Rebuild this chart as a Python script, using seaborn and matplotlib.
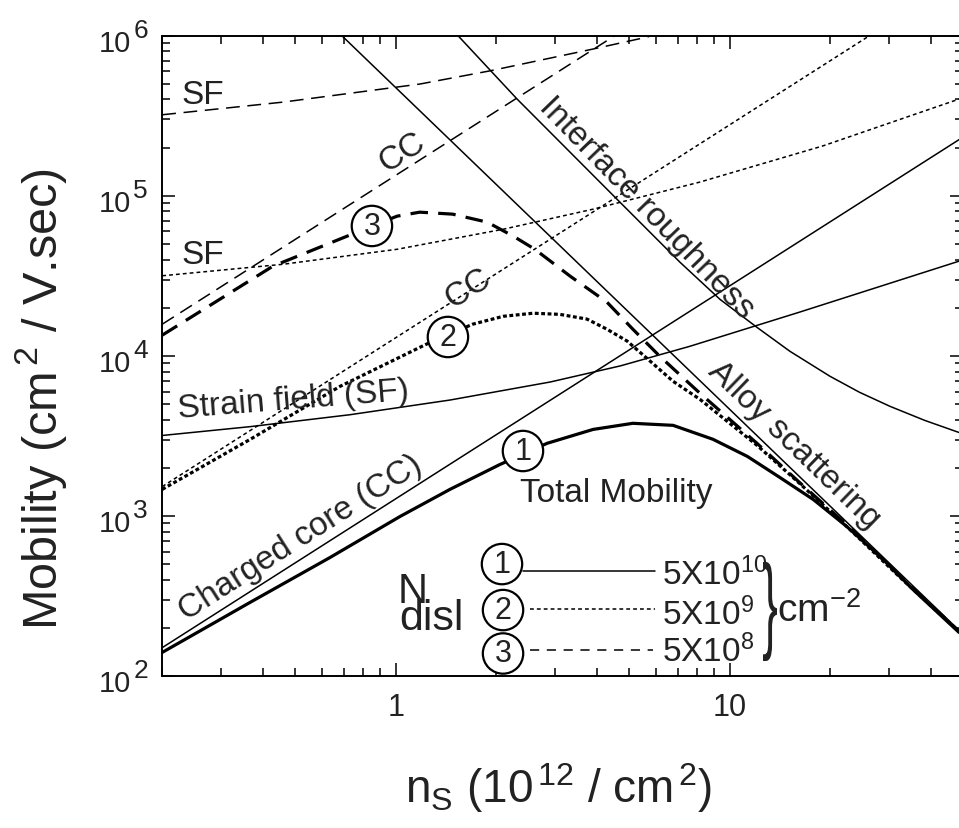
import numpy as np
import matplotlib
matplotlib.use("Agg")
import matplotlib.pyplot as plt
import matplotlib.transforms as mtransforms
import seaborn as sns
from matplotlib.textpath import TextPath
from matplotlib.patches import PathPatch
from matplotlib.font_manager import FontProperties
from matplotlib.ticker import LogLocator, NullFormatter

sns.set_style("ticks")
plt.rcParams['font.family'] = ['Liberation Sans', 'DejaVu Sans']
plt.rcParams['mathtext.fontset'] = 'custom'
plt.rcParams['mathtext.rm'] = 'Liberation Sans'
plt.rcParams['mathtext.it'] = 'Liberation Sans:italic'
plt.rcParams['mathtext.bf'] = 'Liberation Sans:bold'

# ---------------------------------------------------------------- data
# strain field (SF) for the three dislocation densities
ns_sf3 = [0.2, 0.46, 1.18, 1.92, 3.90, 5.65, 6.18]
mu_sf3 = [3.21e5, 3.85e5, 4.99e5, 6.04e5, 8.26e5, 9.8e5, 1.04e6]
ns_sf2 = [0.2, 0.46, 1.01, 2.10, 3.90, 8.15, 19.0, 48.6]
mu_sf2 = [3.17e4, 3.74e4, 4.64e4, 6.19e4, 8.26e4, 1.22e5, 2.05e5, 4.02e5]
ns_sf1 = [0.2, 0.366, 0.730, 1.454, 2.90, 4.70, 7.60, 16.2, 48.6]
mu_sf1 = [3190, 3620, 4300, 5310, 6880, 8670, 1.15e4, 1.88e4, 3.91e4]

# charged core (CC)
ns_cc = [0.2, 50]
mu_cc1 = [151, 2.33e5]
mu_cc2 = [1.53e3, 2.36e6]
mu_cc3 = [1.58e4, 2.44e7]

# alloy scattering and interface roughness
ns_alloy = [0.69, 50]
mu_alloy = [1.0e6, 183]
ns_ir = [1.537, 2.31, 4.60, 7.10, 9.35, 12.07, 15.15, 19.97, 24.5, 30.2, 38.4, 48.6]
mu_ir = [1.0e6, 4.02e5, 9.52e4, 3.85e4, 2.26e4, 1.51e4, 1.07e4, 7470, 5930,
         4850, 3960, 3330]

# total mobility
ns_t1 = [0.2, 0.366, 0.636, 1.03, 1.454, 2.05, 2.84, 3.90, 5.13, 6.77, 8.91,
         11.3, 14.1, 17.8, 22.4, 28.2, 35.4, 48.6]
mu_t1 = [141, 289, 552, 995, 1470, 2100, 2850, 3480, 3800, 3690, 3020,
         2360, 1750, 1270, 863, 560, 348, 188]
ns_t2 = [0.2, 0.366, 0.681, 1.23, 1.70, 2.10, 2.58, 3.10, 3.74, 4.29, 4.93,
         5.65, 6.77, 8.15, 12.07, 16.2, 22.9, 32.4, 48.6]
mu_t2 = [1470, 3010, 6460, 1.18e4, 1.58e4, 1.77e4, 1.85e4, 1.82e4, 1.70e4,
         1.47e4, 1.24e4, 9.68e3, 6.95e3, 5.36e3, 2770, 1600, 826, 414, 190]
ns_t3 = [0.2, 0.429, 0.715, 0.849, 1.01, 1.18, 1.48, 1.88, 2.25, 2.61, 3.33,
         4.29, 5.13, 6.18, 8.15, 12.07, 16.2, 22.9, 32.4, 48.6]
mu_t3 = [1.35e4, 3.64e4, 5.60e4, 6.47e4, 7.47e4, 7.91e4, 7.69e4, 6.85e4,
         5.60e4, 4.64e4, 3.15e4, 2.17e4, 1.47e4, 9.95e3, 5.85e3, 2850, 1620,
         849, 420, 191]

ndisl = ['5X10$^{10}$', '5X10$^{9}$', '5X10$^{8}$']
ytick_vals = [1e2, 1e3, 1e4, 1e5, 1e6]
ytick_exps = ['2', '3', '4', '5', '6']

# ---------------------------------------------------------------- figure
fig = plt.figure(figsize=(9.59, 8.29), dpi=100)
ax = fig.add_axes([0.1692, 0.1830, 0.8351, 0.7727])
ax.set_xscale('log')
ax.set_yscale('log')

thin = 1.1
thick = 2.3
DASH = (0, (9, 5))
DOT = (0, (2.5, 2))

def line(x, y, lw, ls):
    sns.lineplot(x=x, y=y, ax=ax, color='black', lw=lw, ls=ls, legend=False)

line(ns_sf3, mu_sf3, thin, DASH)
line(ns_cc, mu_cc3, thin, DASH)
line(ns_sf2, mu_sf2, thin, DOT)
line(ns_cc, mu_cc2, thin, DOT)
line(ns_sf1, mu_sf1, thin, '-')
line(ns_cc, mu_cc1, thin, '-')
line(ns_alloy, mu_alloy, thin, '-')
line(ns_ir, mu_ir, thin, '-')
line(ns_t3, mu_t3, thick, (0, (5.5, 3.2)))
line(ns_t2, mu_t2, thick, (0, (1.2, 0.8)))
line(ns_t1, mu_t1, thick, '-')

ax.set_xlim(0.2, 50)
ax.set_ylim(1e2, 1e6)
ax.set_xlabel('')
ax.set_ylabel('')

ax.set_xticks([1, 10], ['1', '10'])
ax.xaxis.set_minor_locator(LogLocator(base=10, subs=np.arange(2, 10)))
ax.xaxis.set_minor_formatter(NullFormatter())
ax.set_yticks(ytick_vals, [''] * len(ytick_vals))
ax.yaxis.set_minor_locator(LogLocator(base=10, subs=np.arange(2, 10)))
ax.yaxis.set_minor_formatter(NullFormatter())
ax.tick_params(which='both', direction='in', top=True, right=True, width=1.1,
               color='black', labelsize=22, labelcolor='#222222')
ax.tick_params(which='major', length=9.5)
ax.tick_params(which='minor', length=5.5)
ax.tick_params(axis='x', which='major', pad=11)
for s in ax.spines.values():
    s.set_linewidth(1.4)
    s.set_color('black')

# y tick labels: 10 with a large raised exponent
for v, e in zip(ytick_vals, ytick_exps):
    ax.annotate('10', xy=(0, v), xycoords=('axes fraction', 'data'),
                xytext=(-31, -15), textcoords='offset pixels', ha='right',
                va='baseline', fontsize=21, color='#222222', annotation_clip=False)
    ax.annotate(e, xy=(0, v), xycoords=('axes fraction', 'data'),
                xytext=(-29, -1), textcoords='offset pixels', ha='left',
                va='baseline', fontsize=19, color='#222222', annotation_clip=False)

# ---------------------------------------------------------------- labels on curves
tk = dict(transform=ax.transAxes, fontsize=24, color='#222222')
ax.text(0.0502, 0.909, 'SF', ha='center', va='center', **tk)
ax.text(0.0502, 0.659, 'SF', ha='center', va='center', **tk)
ax.text(0.2993, 0.8185, 'CC', ha='center', va='center', rotation=32.5,
        rotation_mode='anchor', **tk)
ax.text(0.3817, 0.6062, 'CC', ha='center', va='center', rotation=32.5,
        rotation_mode='anchor', **tk)
ax.text(0.1632, 0.4329, 'Strain field (SF)', ha='center', va='center',
        rotation=4.5, rotation_mode='anchor', **tk)
ax.text(0.1732, 0.2175, 'Charged core (CC)', ha='center', va='center',
        rotation=32.5, rotation_mode='anchor', **tk)
ax.text(0.6052, 0.7326, 'Interface roughness', ha='center', va='center',
        rotation=-46, rotation_mode='anchor', **tk)
ax.text(0.7887, 0.3626, 'Alloy scattering', ha='center', va='center',
        rotation=-44, rotation_mode='anchor', **tk)
ax.text(0.4466, 0.2737, 'Total Mobility', ha='left', va='baseline', **tk)

def circ(fx, fy, s):
    ax.text(fx, fy, s, transform=ax.transAxes, ha='center', va='center',
            fontsize=22, color='#222222', zorder=6,
            bbox=dict(boxstyle='circle,pad=0.17', fc='white', ec='black', lw=1.6))

circ(0.4504, 0.3517, '1')
circ(0.3567, 0.5297, '2')
circ(0.2618, 0.7030, '3')

# ---------------------------------------------------------------- N_disl key
ax.plot([0.4504, 0.6149], [0.1644, 0.1644], transform=ax.transAxes,
        color='black', lw=thin, ls='-')
ax.plot([0.4592, 0.6149], [0.1051, 0.1051], transform=ax.transAxes,
        color='black', lw=thin, ls=(0, (2.5, 2)))
ax.plot([0.4592, 0.6124], [0.0415, 0.0415], transform=ax.transAxes,
        color='black', lw=thin, ls=(0, (6, 5)))
circ(0.4242, 0.1752, '1')
circ(0.4255, 0.1034, '2')
circ(0.4255, 0.0356, '3')
for fy, lab in zip([0.1441, 0.0816, 0.0244], ndisl):
    ax.text(0.6236, fy, lab, ha='left', va='baseline', **tk)
ax.text(0.7675, 0.0868, 'cm$^{-2}$', ha='left', va='baseline',
        transform=ax.transAxes, fontsize=28, color='#222222')
ax.text(0.2943, 0.1161, 'N', ha='left', va='baseline', transform=ax.transAxes,
        fontsize=30, color='#222222')
ax.text(0.2955, 0.0738, 'disl', ha='left', va='baseline',
        transform=ax.transAxes, fontsize=31, color='#222222')

# tall curly brace
tp = TextPath((0, 0), '}', size=1, prop=FontProperties(family='Liberation Sans'))
bb = tp.get_extents()
bx0, bx1 = 763 / 959, 777 / 959
by0, by1 = 1 - 662 / 829, 1 - 563 / 829
tr = (mtransforms.Affine2D().translate(-bb.x0, -bb.y0)
      .scale((bx1 - bx0) / bb.width, (by1 - by0) / bb.height)
      .translate(bx0, by0) + fig.transFigure)
fig.add_artist(PathPatch(tp, transform=tr, fc='#222222', ec='none'))

# ---------------------------------------------------------------- axis titles
fig.text(405 / 959, 1 - 803 / 829, r'n$_{\mathrm{S}}$ (10$^{\,12}$ / cm$^{\,2}$)',
         fontsize=33, ha='left', va='baseline', color='#222222')
fig.text(57 / 959, 1 - 630 / 829, r'Mobility (cm$^{\,2}$ / V.sec)', fontsize=35,
         rotation=90, rotation_mode='anchor', ha='left', va='baseline',
         color='#222222')

fig.savefig('out.png', dpi=100)
